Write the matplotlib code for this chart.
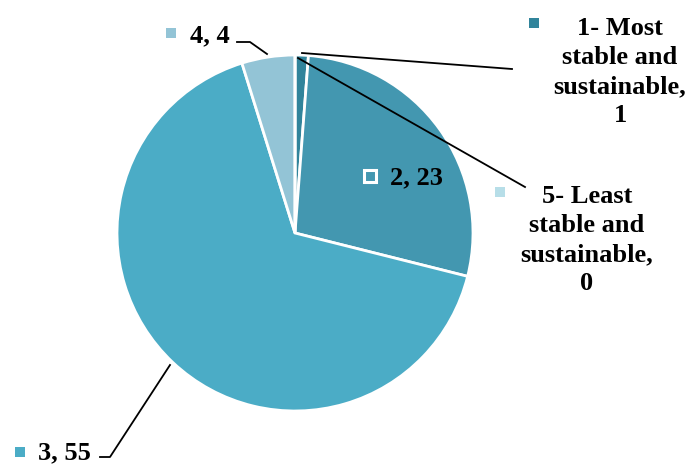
import matplotlib.pyplot as plt

labels = ["1- Most\nstable and\nsustainable,", "2", "3", "4", "5- Least\nstable and\nsustainable,"]
values = [1, 23, 55, 4, 0]
colors = ['#31849B', '#4397B0', '#4BACC6', '#93C4D6', '#B7DEE8']

W, H = 689, 468
fig = plt.figure(figsize=(W / 100, H / 100), dpi=100)
ax = fig.add_axes([0, 0, 1, 1])


def Y(y):
    # pixel row -> data y
    return H - y


ax.pie(values, colors=colors, startangle=90, counterclock=False,
       center=(295, Y(233)), radius=178, normalize=True,
       wedgeprops=dict(edgecolor='white', linewidth=2))

# pie() sets its own limits, so fix them afterwards
ax.set_xlim(0, W)
ax.set_ylim(0, H)
ax.set_aspect('equal')
ax.axis('off')

font = dict(family='Liberation Serif', weight='bold', fontsize=19, color='black')

# label layout: (text, x, y, ha, marker x, marker y, leader line points)
layout = [
    (f"{labels[0]}\n{values[0]}", 620, 72, 'center', 534, 23, [(302, 53), (512, 69)]),
    (f"{labels[1]}, {values[1]}", 390, 178, 'left', 370, 176, None),
    (f"{labels[2]}, {values[2]}", 38, 453, 'left', 20, 452, [(170, 365), (110, 457), (100, 457)]),
    (f"{labels[3]}, {values[3]}", 190, 36, 'left', 171, 33, [(267, 54), (250, 42), (237, 42)]),
    (f"{labels[4]}\n{values[4]}", 587, 240, 'center', 500, 192, [(298, 58), (525, 187)]),
]

for i, (txt, tx, ty, ha, mx, my, pts) in enumerate(layout):
    ax.text(tx, Y(ty), txt, ha=ha, va='center', linespacing=1.34, **font)
    if i == 1:
        ax.plot(mx, Y(my), marker='s', markersize=9, color=colors[i],
                markeredgecolor='white', markeredgewidth=2.2)
    else:
        ax.plot(mx, Y(my), marker='s', markersize=7, color=colors[i], markeredgewidth=0)
    if pts:
        ax.plot([p[0] for p in pts], [Y(p[1]) for p in pts], color='black', linewidth=1.3)

fig.savefig('out.png', dpi=100)
